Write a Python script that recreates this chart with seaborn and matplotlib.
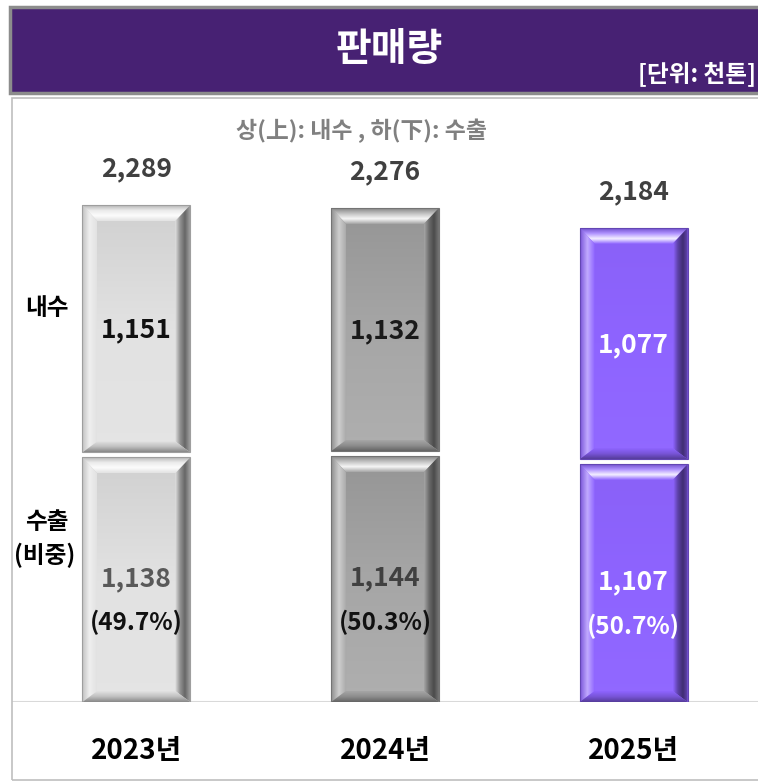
import numpy as np
import pandas as pd
import matplotlib.pyplot as plt
import matplotlib.colors as mcolors
from matplotlib.patches import Rectangle, Polygon
import seaborn as sns

# data (unit: thousand tons)
years = ['2023년', '2024년', '2025년']
domestic = [1151, 1132, 1077]
export = [1138, 1144, 1107]
export_share = [49.7, 50.3, 50.7]
totals = [2289, 2276, 2184]

# styles
bar_colors = ['#E2E2E2', '#A6A6A6', '#8E64FF']
face_shade = [0.08, 0.1, 0.03]
inner_colors = ['#111111', '#1A1A1A', '#FFFFFF']
export_colors = ['#595959', '#404040', '#FFFFFF']
share_colors = ['#111111', '#111111', '#FFFFFF']

sns.set_style('white')
plt.rcParams['font.family'] = ['Noto Sans CJK KR', 'DejaVu Sans']

W, H = 758, 782
fig = plt.figure(figsize=(W / 100, H / 100), dpi=100)


def fx(px):
    return px / W


def fy(py):
    return 1 - py / H


# title banner
fig.patches.append(Rectangle((fx(10), fy(93)), fx(760), 86 / H, transform=fig.transFigure,
                             facecolor='#472173', edgecolor='#8C8C8C', lw=2.5, zorder=0))
fig.text(fx(389), fy(50), '판매량', color='white', fontsize=28, fontweight='bold',
         ha='center', va='center')
fig.text(fx(756), fy(75), '[단위: 천톤]', color='white', fontsize=17, fontweight='bold',
         ha='right', va='center')

# chart box
fig.patches.append(Rectangle((fx(12), fy(780)), fx(760), 682 / H, transform=fig.transFigure,
                             facecolor='none', edgecolor='#BFBFBF', lw=1.2, zorder=0))

ax = fig.add_axes([fx(12), fy(702), fx(746), 604 / H])
df = pd.DataFrame({'year': years, 'domestic': domestic, 'export': export, 'total': totals})

sns.barplot(data=df, x='year', y='total', hue='year', palette=bar_colors, width=0.434,
            legend=False, ax=ax, zorder=2)
sns.barplot(data=df, x='year', y='export', hue='year', palette=bar_colors, width=0.434,
            legend=False, ax=ax, zorder=2)

XL = (-0.5, 2.5)
YL = (0, 604 / 0.2171)
ax.set_xlim(*XL)
ax.set_ylim(*YL)
for s in ax.spines.values():
    s.set_visible(False)
ax.set_yticks([])
ax.set_xlabel('')
ax.set_ylabel('')
ax.tick_params(axis='x', length=0, pad=25)
for lab in ax.get_xticklabels():
    lab.set_fontsize(20)
    lab.set_fontweight('bold')
    lab.set_color('black')
ax.axhline(0, color='#D9D9D9', lw=1.5, zorder=1)

# bevel sizes in data units
p0 = ax.transData.transform((0, 0))
p1 = ax.transData.transform((1, 1))
ux = p1[0] - p0[0]
uy = p1[1] - p0[1]
bx = 15 / ux
bt = 16 / uy
bb = 11 / uy
gap = 2.5 / uy


def mix(c, other, t):
    a = np.array(mcolors.to_rgb(c))
    b = np.array(mcolors.to_rgb(other))
    return a * (1 - t) + b * t


def grad_fill(pts, stops, vertical, zorder=4):
    # stops run left->right or bottom->top
    pts = np.array(pts)
    xmin, ymin = pts.min(axis=0)
    xmax, ymax = pts.max(axis=0)
    t = np.linspace(0, 1, 64)
    k = np.linspace(0, 1, len(stops))
    arr = np.stack([np.interp(t, k, [s[j] for s in stops]) for j in range(3)], axis=-1)
    img = arr[::-1][:, None, :] if vertical else arr[None, :, :]
    clip = Polygon(pts, closed=True, facecolor='none', edgecolor='none', transform=ax.transData)
    ax.add_patch(clip)
    im = ax.imshow(img, extent=(xmin, xmax, ymin, ymax), aspect='auto', interpolation='bilinear',
                   zorder=zorder)
    im.set_clip_path(clip)


def bevel(x0, y0, x1, y1, color, shade):
    face = mix(color, 'white', 0)
    grad_fill([(x0, y0), (x1, y0), (x1, y1), (x0, y1)],
              [mix(color, 'white', shade), face, mix(color, 'black', shade)], vertical=True, zorder=3)
    top = [(x0, y1), (x1, y1), (x1 - bx, y1 - bt), (x0 + bx, y1 - bt)]
    left = [(x0, y0), (x0 + bx, y0 + bb), (x0 + bx, y1 - bt), (x0, y1)]
    right = [(x1, y0), (x1, y1), (x1 - bx, y1 - bt), (x1 - bx, y0 + bb)]
    bottom = [(x0, y0), (x1, y0), (x1 - bx, y0 + bb), (x0 + bx, y0 + bb)]
    grad_fill(top, [face, mix(color, 'white', 0.9), mix(color, 'white', 0.3), mix(color, 'black', 0.2)],
              vertical=True)
    grad_fill(left, [mix(color, 'black', 0.15), mix(color, 'white', 0.45), face], vertical=False)
    grad_fill(right, [face, mix(color, 'black', 0.35), mix(color, 'black', 0.55), mix(color, 'black', 0.3)],
              vertical=False)
    grad_fill(bottom, [mix(color, 'black', 0.4), mix(color, 'black', 0.15), face], vertical=True)
    ax.add_patch(Rectangle((x0, y0), x1 - x0, y1 - y0, facecolor='none',
                           edgecolor=mix(color, 'black', 0.3), lw=0.8, zorder=5))


n = len(years)
tot_patches = ax.patches[:n]
exp_patches = ax.patches[n:2 * n]
for i in range(n):
    tp, ep = tot_patches[i], exp_patches[i]
    x0 = tp.get_x()
    w = tp.get_width()
    x1 = x0 + w
    e_top = ep.get_height()
    t_top = tp.get_height()
    tp.set_visible(False)
    ep.set_visible(False)
    bevel(x0, 0, x1, e_top - gap, bar_colors[i], face_shade[i])
    bevel(x0, e_top + gap, x1, t_top, bar_colors[i], face_shade[i])
    cx = x0 + w / 2

    ax.annotate(f'{totals[i]:,}', (cx, t_top), xytext=(0, 26), textcoords='offset points',
                ha='center', va='center', fontsize=19, fontweight='bold', color='#404040')
    ax.text(cx, e_top + domestic[i] / 2, f'{domestic[i]:,}', ha='center', va='center',
            fontsize=19, fontweight='bold', color=inner_colors[i], zorder=6)
    ax.text(cx, e_top / 2, f'{export[i]:,}', ha='center', va='center',
            fontsize=19, fontweight='bold', color=export_colors[i], zorder=6)
    ax.annotate(f'({export_share[i]}%)', (cx, e_top / 2), xytext=(0, -32), textcoords='offset points',
                ha='center', va='center', fontsize=17.5, fontweight='bold', color=share_colors[i],
                zorder=6)

ax.set_xlim(*XL)
ax.set_ylim(*YL)

# annotations
fig.text(fx(361), fy(131), '상(上): 내수 , 하(下): 수출', color='#808080', fontsize=16.5,
         fontweight='bold', ha='center', va='center')
fig.text(fx(47), fy(308), '내수', color='black', fontsize=17, fontweight='bold', ha='center', va='center')
fig.text(fx(47), fy(522), '수출', color='black', fontsize=17, fontweight='bold', ha='center', va='center')
fig.text(fx(45), fy(555), '(비중)', color='black', fontsize=17, fontweight='bold', ha='center', va='center')

fig.savefig('out.png', dpi=100)
